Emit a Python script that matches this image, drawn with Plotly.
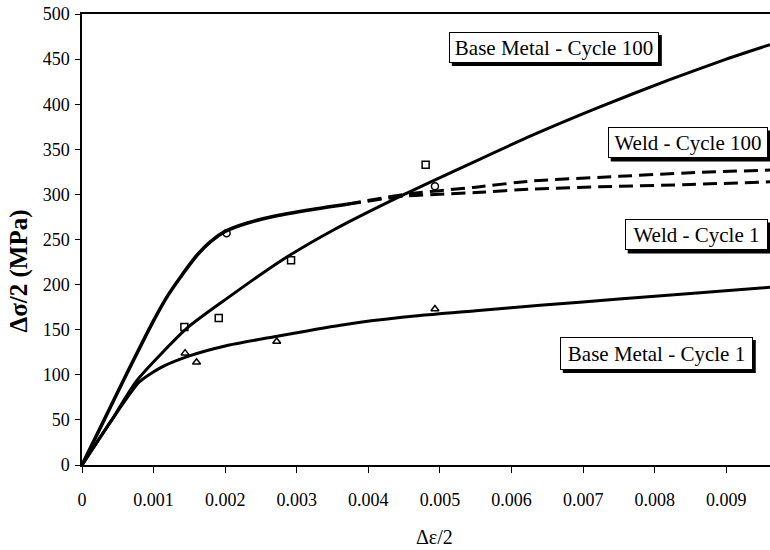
import plotly.graph_objects as go

# ---- data ----
base100_x = [0, 0.0004, 0.00077, 0.00147, 0.00203, 0.00277, 0.0035, 0.0045, 0.0055, 0.0063, 0.0072, 0.0082, 0.0090, 0.00961]
base100_y = [0, 48, 94, 152, 185, 226, 260, 300, 337, 366, 396, 427, 450, 466]

base1_x = [0, 0.0004, 0.0008, 0.0011, 0.0015, 0.002, 0.00267, 0.00361, 0.0045, 0.0055, 0.0064, 0.0075, 0.0085, 0.00961]
base1_y = [0, 48, 92, 108, 121, 132, 142, 155, 164, 171, 177, 184, 190, 197]

weld_x = [0, 0.00026, 0.00058, 0.001, 0.0012, 0.0014, 0.0016, 0.0018, 0.002, 0.0023, 0.0027, 0.0032, 0.0037]
weld_y = [0, 42, 94, 160, 188, 211, 232, 248, 259, 268, 276, 283, 289]

weld100_x = [0.0037, 0.0045, 0.0055, 0.0063, 0.0075, 0.0085, 0.00961]
weld100_y = [289, 300, 308, 315, 320, 324, 327]

weld1_x = [0.0037, 0.0045, 0.0055, 0.0063, 0.0075, 0.0085, 0.00961]
weld1_y = [289, 298, 302, 306, 309, 311, 314]

sq_x = [0.00143, 0.00191, 0.00292, 0.0048]
sq_y = [153, 163, 227, 333]
tri_x = [0.00144, 0.0016, 0.00272, 0.00493]
tri_y = [124, 114, 137, 173]
circ_x = [0.00202, 0.00493]
circ_y = [257, 309]

labels = ["Base Metal - Cycle 100", "Weld - Cycle 100", "Weld - Cycle 1", "Base Metal - Cycle 1"]

x_ticks = [0, 0.001, 0.002, 0.003, 0.004, 0.005, 0.006, 0.007, 0.008, 0.009]
x_ticktext = ["0", "0.001", "0.002", "0.003", "0.004", "0.005", "0.006", "0.007", "0.008", "0.009"]
y_ticks = [0, 50, 100, 150, 200, 250, 300, 350, 400, 450, 500]

# label box layout: centre (paper coords) and outer box size in px
label_pos = [(0.6858, 0.9257), (0.8804, 0.7140), (0.8927, 0.5100), (0.8347, 0.2472)]
label_box = [(210, 31), (160, 31), (143, 31), (193, 33)]

FONT = "Liberation Serif"

fig = go.Figure()
solid = dict(color="black", width=3, shape="spline", smoothing=0.6)
fig.add_trace(go.Scatter(x=base100_x, y=base100_y, mode="lines", line=solid, name="Base Metal - Cycle 100"))
fig.add_trace(go.Scatter(x=base1_x, y=base1_y, mode="lines", line=solid, name="Base Metal - Cycle 1"))
fig.add_trace(go.Scatter(x=weld_x, y=weld_y, mode="lines",
                         line=dict(color="black", width=3.5, shape="spline", smoothing=0.8), name="Weld"))
fig.add_trace(go.Scatter(x=weld100_x, y=weld100_y, mode="lines",
                         line=dict(color="black", width=3, dash="14px,7px", shape="spline", smoothing=0.6),
                         name="Weld - Cycle 100"))
fig.add_trace(go.Scatter(x=weld1_x, y=weld1_y, mode="lines",
                         line=dict(color="black", width=3, dash="14px,7px", shape="spline", smoothing=0.6),
                         name="Weld - Cycle 1"))
mk = dict(color="black", size=7, line=dict(color="black", width=1.5))
fig.add_trace(go.Scatter(x=sq_x, y=sq_y, mode="markers", marker=dict(symbol="square-open", **mk), name="BM100 data"))
fig.add_trace(go.Scatter(x=tri_x, y=tri_y, mode="markers", marker=dict(symbol="triangle-up-open", **mk), name="BM1 data"))
fig.add_trace(go.Scatter(x=circ_x, y=circ_y, mode="markers", marker=dict(symbol="circle-open", **mk), name="Weld data"))

annotations = []
shapes = []
PAD, BW, SH = 2, 1, 3
for txt, (ax, ay), (ow, oh) in zip(labels, label_pos, label_box):
    # drop shadow behind each label box
    shapes.append(dict(type="rect", xref="paper", yref="paper", xsizemode="pixel", ysizemode="pixel",
                       xanchor=ax, yanchor=ay, x0=-ow / 2 + SH, x1=ow / 2 + SH, y0=-oh / 2 - SH, y1=oh / 2 - SH,
                       fillcolor="black", line=dict(width=0), layer="above"))
    annotations.append(dict(text=txt, xref="paper", yref="paper", x=ax, y=ay, xanchor="center", yanchor="middle",
                            showarrow=False, borderpad=PAD, borderwidth=BW,
                            width=ow - 2 * (PAD + BW), height=oh - 2 * (PAD + BW), align="center", valign="middle",
                            font=dict(family=FONT, size=21, color="black"),
                            bgcolor="white", bordercolor="black"))

annotations.append(dict(text="<b>Δσ/2 (MPa)</b>", xref="paper", yref="paper", x=-0.091, y=0.43,
                        xanchor="center", yanchor="middle", textangle=-90, showarrow=False,
                        font=dict(family=FONT, size=25, color="black")))
annotations.append(dict(text="Δε/2", xref="paper", yref="paper", x=0.513, y=-0.16,
                        xanchor="center", yanchor="middle", showarrow=False,
                        font=dict(family=FONT, size=20, color="black")))

fig.update_layout(
    width=770, height=550,
    margin=dict(l=82, r=0, t=14, b=85),
    plot_bgcolor="white", paper_bgcolor="white",
    showlegend=False,
    font=dict(family=FONT, size=18, color="black"),
    annotations=annotations,
    shapes=shapes,
    xaxis=dict(range=[0, 0.00961], tickvals=x_ticks, ticktext=x_ticktext, showgrid=False, zeroline=False,
               showline=True, linecolor="black", linewidth=1.5, mirror=True,
               ticks="outside", ticklen=6, tickcolor="black", ticklabelstandoff=12),
    yaxis=dict(range=[0, 500], tickvals=y_ticks, showgrid=False, zeroline=False,
               showline=True, linecolor="black", linewidth=1.5,
               ticks="outside", ticklen=5, tickcolor="black", ticklabelstandoff=2),
)

# remove the default 8 px page margin so the figure sits at the window's top-left corner
fig.write_html("out.html", config={"displayModeBar": False},
               post_script="document.body.style.margin='0';")
